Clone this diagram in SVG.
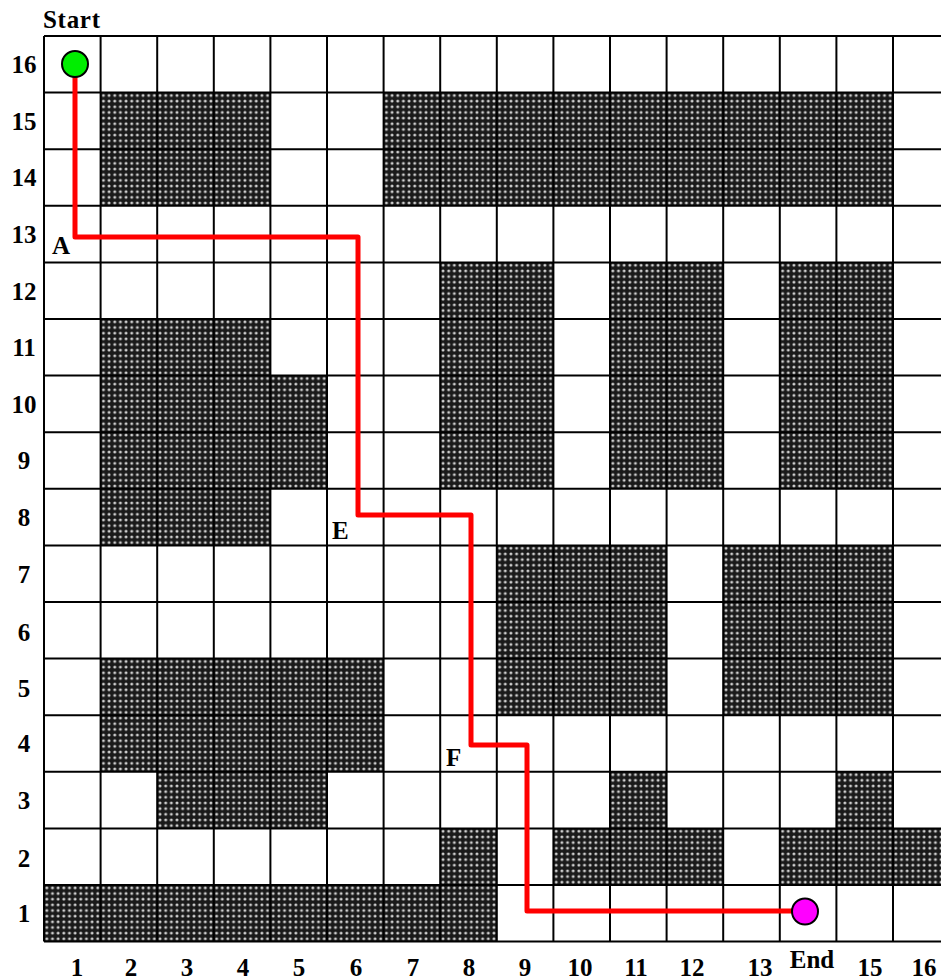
<svg xmlns="http://www.w3.org/2000/svg" width="941" height="980" viewBox="0 0 941 980">
<defs>
<pattern id="dots" patternUnits="userSpaceOnUse" x="44" y="36" width="5.66" height="5.66">
<rect width="5.66" height="5.66" fill="#1a1a1a"/>
<circle cx="2.83" cy="2.83" r="1.5" fill="#d0d0d0"/>
</pattern>
</defs>
<style>
.lbl{font-family:"Liberation Serif","Times New Roman",serif;font-weight:bold;font-size:25px;fill:#000}
.row{text-anchor:middle}
.col{text-anchor:middle}
.grid line{stroke:#000;stroke-width:2}
.path{fill:none;stroke:#ff0000;stroke-width:5;stroke-linejoin:round}
.obs rect{fill:url(#dots)}
</style>
<rect width="941" height="980" fill="#fff"/>
<g id="obstacles" class="obs">
<rect x="100.6" y="92.6" width="169.8" height="113.2"/>
<rect x="383.6" y="92.6" width="509.4" height="113.2"/>
<rect x="440.2" y="262.4" width="113.2" height="226.4"/>
<rect x="610" y="262.4" width="113.2" height="226.4"/>
<rect x="779.8" y="262.4" width="113.2" height="226.4"/>
<rect x="100.6" y="319" width="169.8" height="226.4"/>
<rect x="270.4" y="375.6" width="56.6" height="113.2"/>
<rect x="496.8" y="545.4" width="169.8" height="169.8"/>
<rect x="723.2" y="545.4" width="169.8" height="169.8"/>
<rect x="100.6" y="658.6" width="283" height="113.2"/>
<rect x="157.2" y="771.8" width="169.8" height="56.6"/>
<rect x="610" y="771.8" width="56.6" height="56.6"/>
<rect x="836.4" y="771.8" width="56.6" height="56.6"/>
<rect x="440.2" y="828.4" width="56.6" height="56.6"/>
<rect x="553.4" y="828.4" width="169.8" height="56.6"/>
<rect x="779.8" y="828.4" width="169.8" height="56.6"/>
<rect x="44" y="885" width="452.8" height="56.6"/>
</g>
<g id="grid" class="grid">
<line x1="44" y1="36" x2="44" y2="941.6"/>
<line x1="100.6" y1="36" x2="100.6" y2="941.6"/>
<line x1="157.2" y1="36" x2="157.2" y2="941.6"/>
<line x1="213.8" y1="36" x2="213.8" y2="941.6"/>
<line x1="270.4" y1="36" x2="270.4" y2="941.6"/>
<line x1="327" y1="36" x2="327" y2="941.6"/>
<line x1="383.6" y1="36" x2="383.6" y2="941.6"/>
<line x1="440.2" y1="36" x2="440.2" y2="941.6"/>
<line x1="496.8" y1="36" x2="496.8" y2="941.6"/>
<line x1="553.4" y1="36" x2="553.4" y2="941.6"/>
<line x1="610" y1="36" x2="610" y2="941.6"/>
<line x1="666.6" y1="36" x2="666.6" y2="941.6"/>
<line x1="723.2" y1="36" x2="723.2" y2="941.6"/>
<line x1="779.8" y1="36" x2="779.8" y2="941.6"/>
<line x1="836.4" y1="36" x2="836.4" y2="941.6"/>
<line x1="893" y1="36" x2="893" y2="941.6"/>
<line x1="44" y1="36" x2="941" y2="36"/>
<line x1="44" y1="92.6" x2="941" y2="92.6"/>
<line x1="44" y1="149.2" x2="941" y2="149.2"/>
<line x1="44" y1="205.8" x2="941" y2="205.8"/>
<line x1="44" y1="262.4" x2="941" y2="262.4"/>
<line x1="44" y1="319" x2="941" y2="319"/>
<line x1="44" y1="375.6" x2="941" y2="375.6"/>
<line x1="44" y1="432.2" x2="941" y2="432.2"/>
<line x1="44" y1="488.8" x2="941" y2="488.8"/>
<line x1="44" y1="545.4" x2="941" y2="545.4"/>
<line x1="44" y1="602" x2="941" y2="602"/>
<line x1="44" y1="658.6" x2="941" y2="658.6"/>
<line x1="44" y1="715.2" x2="941" y2="715.2"/>
<line x1="44" y1="771.8" x2="941" y2="771.8"/>
<line x1="44" y1="828.4" x2="941" y2="828.4"/>
<line x1="44" y1="885" x2="941" y2="885"/>
<line x1="44" y1="941.6" x2="941" y2="941.6"/>
</g>
<g id="connectors">
<polyline class="path" points="75,64 75,237 358,237 358,515 471,515 471,745 527,745 527,911 805,911"/>
</g>
<g id="start">
<circle cx="75" cy="64" r="13" fill="#00ee00" stroke="#000" stroke-width="2"/>
<text class="lbl" x="43" y="28" textLength="57">Start</text>
</g>
<g id="end">
<circle cx="805" cy="911.5" r="13" fill="#ff00ff" stroke="#000" stroke-width="2"/>
<text class="lbl col" x="812" y="968">End</text>
</g>
<g id="A"><text class="lbl" x="52" y="254">A</text></g>
<g id="E"><text class="lbl" x="332" y="539">E</text></g>
<g id="F"><text class="lbl" x="446" y="766">F</text></g>
<g id="row-labels" class="lbl row">
<text x="24" y="72.5">16</text>
<text x="24" y="129.5">15</text>
<text x="24" y="186">14</text>
<text x="24" y="243">13</text>
<text x="24" y="299.5">12</text>
<text x="24" y="356">11</text>
<text x="24" y="412.5">10</text>
<text x="24" y="469">9</text>
<text x="24" y="526">8</text>
<text x="24" y="582.5">7</text>
<text x="24" y="641">6</text>
<text x="24" y="697">5</text>
<text x="24" y="752">4</text>
<text x="24" y="808.5">3</text>
<text x="24" y="867">2</text>
<text x="24" y="921.5">1</text>
</g>
<g id="col-labels" class="lbl col">
<text x="77" y="976">1</text>
<text x="131" y="976">2</text>
<text x="187" y="976">3</text>
<text x="243" y="976">4</text>
<text x="299" y="976">5</text>
<text x="356" y="976">6</text>
<text x="413" y="976">7</text>
<text x="469" y="976">8</text>
<text x="525" y="976">9</text>
<text x="580" y="976">10</text>
<text x="636" y="976">11</text>
<text x="692" y="976">12</text>
<text x="760" y="976">13</text>
<text x="870" y="976">15</text>
<text x="924" y="976">16</text>
</g>
</svg>
